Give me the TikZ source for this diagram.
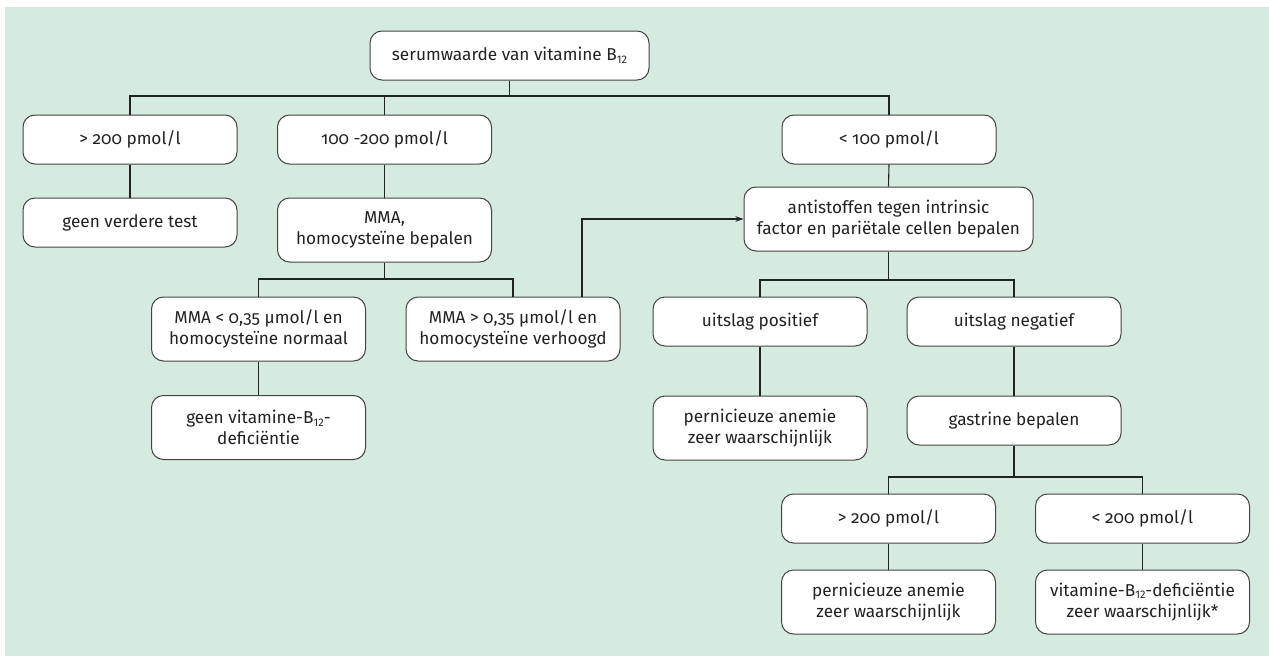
\documentclass[tikz,border=0pt]{standalone}
\usepackage{fontspec}
\setmainfont{Fira Sans}[Numbers=OldStyle]
\usetikzlibrary{arrows.meta}
\definecolor{bggreen}{HTML}{D6EBE0}
\definecolor{ink}{HTML}{222222}
\newcommand{\Btw}{B\raisebox{-0.3ex}{\fontsize{11}{11}\selectfont\addfontfeature{Numbers=Lining}12}}
\tikzset{
  box/.style={draw=ink!85, line width=1pt, fill=white, rounded corners=12pt,
    minimum width=214pt, minimum height=49pt, align=center, inner sep=2pt,
    text=ink, font=\fontsize{17.2}{21.5}\selectfont},
  tall/.style={minimum height=64pt},
  conn/.style={draw=ink, line width=1.1pt},
}
\begin{document}
\begin{tikzpicture}[x=1pt,y=-1pt]
\useasboundingbox (0,0) rectangle (1269,656);
\fill[bggreen] (5,7) rectangle (1269,656);
% nodes
\node[box, minimum width=279pt] (top) at (509.5,55.5) {serumwaarde van vitamine \Btw};
\node[box] (g1) at (130,139.5) {> 200 pmol/l};
\node[box] (g2) at (384.5,139.5) {100 -200 pmol/l};
\node[box] (g3) at (889,139.5) {< 100 pmol/l};
\node[box] (a1) at (130,222.5) {geen verdere test};
\node[box, tall] (a2) at (384.5,230) {MMA,\\homocysteïne bepalen};
\node[box, tall, minimum width=289pt] (anti) at (888.5,219) {antistoffen tegen intrinsic\\factor en pariëtale cellen bepalen};
\node[box, tall] (b1) at (258.5,329) {MMA < 0,35 µmol/l en\\homocysteïne normaal};
\node[box, tall] (b2) at (513,329) {MMA > 0,35 µmol/l en\\homocysteïne verhoogd};
\node[box] (c1) at (760,321.5) {uitslag positief};
\node[box] (c2) at (1014,321.5) {uitslag negatief};
\node[box, tall] (d1) at (258.5,427.5) {geen vitamine-\Btw-\\deficiëntie};
\node[box, tall] (e1) at (760,428) {pernicieuze anemie\\zeer waarschijnlijk};
\node[box] (e2) at (1014,420.5) {gastrine bepalen};
\node[box] (f1) at (888.5,518.5) {> 200 pmol/l};
\node[box] (f2) at (1142.5,518.5) {< 200 pmol/l};
\node[box, tall] (h1) at (888.5,602) {pernicieuze anemie\\zeer waarschijnlijk};
\node[box, tall] (h2) at (1142.5,602) {vitamine-\Btw-deficiëntie\\zeer waarschijnlijk*};
% bus levels
\coordinate (bus1) at (0,96);
\coordinate (bus2) at (0,279);
\coordinate (bus3) at (0,280);
\coordinate (bus4) at (0,477);
% connectors
\draw[conn] (top.south) -- (top.south |- bus1);
\draw[conn] (g1.north) |- (g3.north |- bus1) -- (g3.north);
\draw[conn] (g2.north) -- (g2.north |- bus1);
\draw[conn] (g1.south) -- (a1.north);
\draw[conn] (g2.south) -- (a2.north);
\draw[conn] (g3.south) -- (anti.north);
\draw[conn] (a2.south) -- (a2.south |- bus2);
\draw[conn] (b1.north) |- (b2.north |- bus2) -- (b2.north);
\draw[conn] (b1.south) -- (d1.north);
\draw[conn, -{Stealth[length=8pt,width=5.5pt]}] ([xshift=69pt]b2.north) |- (anti.west);
\draw[conn] (anti.south) -- (anti.south |- bus3);
\draw[conn] (c1.north) |- (c2.north |- bus3) -- (c2.north);
\draw[conn] (c1.south) -- (e1.north);
\draw[conn] (c2.south) -- (e2.north);
\draw[conn] (e2.south) -- (e2.south |- bus4);
\draw[conn] (f1.north) |- (f2.north |- bus4) -- (f2.north);
\draw[conn] (f1.south) -- (h1.north);
\draw[conn] (f2.south) -- (h2.north);
\end{tikzpicture}
\end{document}
